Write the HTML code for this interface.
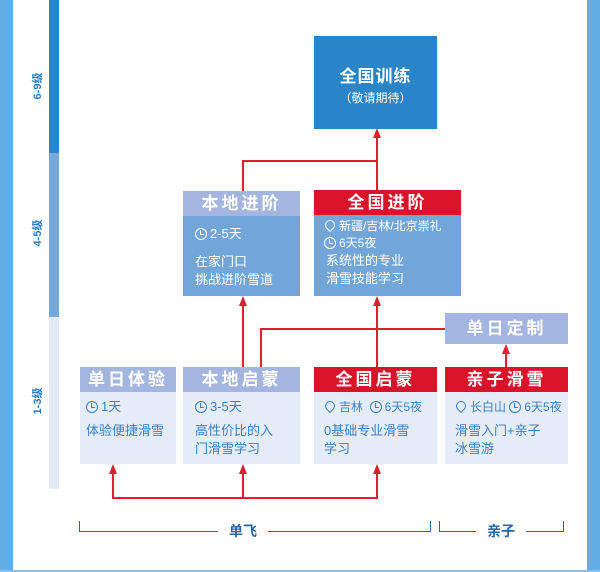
<!DOCTYPE html>
<html><head><meta charset="utf-8"><style>
body{margin:0;width:600px;height:572px;position:relative;background:#fff;overflow:hidden;font-family:"Liberation Sans","Noto Sans CJK SC",sans-serif}
.a{position:absolute}
.h{position:absolute;color:#fff;font-weight:bold;font-size:17px;text-align:center;line-height:25px;letter-spacing:3px}
.b{position:absolute;font-size:13px;line-height:18px;box-sizing:border-box;padding:6px 0 0 12px}
.lb{background:#e4ecf7;color:#3a7fc4}
.db{background:#72a6d9;color:#fff}
.r{position:absolute;background:#e01e30}
.ar{position:absolute;width:0;height:0;border-left:4px solid transparent;border-right:4px solid transparent;border-bottom:10px solid #e01e30}
.lv{position:absolute;left:22px;width:30px;text-align:center;color:#2a7bc4;font-weight:bold;font-size:11px;transform:rotate(-90deg)}
.bl{position:absolute;background:#2565a8}
.ck{display:inline-block;width:10px;height:10px;border:1.3px solid currentColor;border-radius:50%;vertical-align:-2px;margin-right:3px;position:relative}
.ck:after{content:"";position:absolute;left:4px;top:1px;width:3px;height:4px;border-left:1.3px solid currentColor;border-bottom:1.3px solid currentColor}
.pn{display:inline-block;width:8px;height:8px;border:1.3px solid currentColor;border-radius:50% 50% 50% 0;transform:rotate(-45deg);vertical-align:0;margin:0 4px 0 1px}
</style></head><body>
<div class="a" style="left:0;top:0;width:13px;height:572px;background:#64aee8"></div>
<div class="a" style="left:587px;top:0;width:13px;height:572px;background:#64aee8"></div>
<div class="a" style="left:0;top:570px;width:600px;height:2px;background:#8cc0ec"></div>
<div class="a" style="left:49px;top:0;width:10px;height:153px;background:#2a84c8"></div>
<div class="a" style="left:49px;top:153px;width:10px;height:164px;background:#74a9db"></div>
<div class="a" style="left:49px;top:317px;width:10px;height:172px;background:#e2ebf6"></div>
<div class="lv" style="top:78px">6-9级</div>
<div class="lv" style="top:225px">4-5级</div>
<div class="lv" style="top:393px">1-3级</div>

<div class="r" style="left:242px;top:160px;width:136px;height:2px"></div>
<div class="r" style="left:242px;top:160px;width:2px;height:31px"></div>
<div class="r" style="left:376px;top:136px;width:2px;height:55px"></div>
<div class="ar" style="left:373px;top:128px"></div>
<div class="r" style="left:242px;top:304px;width:2px;height:63px"></div>
<div class="ar" style="left:239px;top:296px"></div>
<div class="r" style="left:376px;top:304px;width:2px;height:63px"></div>
<div class="ar" style="left:373px;top:296px"></div>
<div class="r" style="left:260px;top:328px;width:185px;height:2px"></div>
<div class="r" style="left:260px;top:328px;width:2px;height:39px"></div>
<div class="r" style="left:505px;top:352px;width:2px;height:15px"></div>
<div class="ar" style="left:502px;top:344px"></div>
<div class="r" style="left:112px;top:497px;width:266px;height:2px"></div>
<div class="r" style="left:112px;top:472px;width:2px;height:26px"></div>
<div class="ar" style="left:109px;top:464px"></div>
<div class="r" style="left:242px;top:472px;width:2px;height:26px"></div>
<div class="ar" style="left:239px;top:464px"></div>
<div class="r" style="left:376px;top:472px;width:2px;height:26px"></div>
<div class="ar" style="left:373px;top:464px"></div>

<div class="a" style="left:314px;top:36px;width:123px;height:93px;background:#2a84c8;color:#fff;text-align:center">
<div style="margin-top:26px;font-size:17px;font-weight:bold;letter-spacing:1px">全国训练</div>
<div style="font-size:12px;margin-top:2px">（敬请期待）</div></div>

<div class="h" style="left:183px;top:191px;width:117px;background:#a4b6df">本地进阶</div>
<div class="b db" style="left:183px;top:216px;width:117px;height:80px;padding-top:9px"><span class="ck"></span>2-5天<div style="margin-top:10px">在家门口<br>挑战进阶雪道</div></div>
<div class="h" style="left:314px;top:190px;width:147px;background:#d9132a">全国进阶</div>
<div class="b db" style="left:314px;top:215px;width:147px;height:81px;padding:3px 0 0 10px;font-size:12px;line-height:17px"><span class="pn"></span>新疆/吉林/北京崇礼<br><span class="ck"></span>6天5夜<div style="font-size:13px;line-height:18px;padding-left:2px">系统性的专业<br>滑雪技能学习</div></div>
<div class="h" style="left:445px;top:313px;width:123px;height:31px;line-height:31px;background:#a4b6df">单日定制</div>

<div class="h" style="left:80px;top:367px;width:96px;background:#a4b6df">单日体验</div>
<div class="b lb" style="left:80px;top:392px;width:96px;height:72px;padding-left:6px"><span class="ck"></span>1天<div style="margin-top:6px">体验便捷滑雪</div></div>
<div class="h" style="left:183px;top:367px;width:117px;background:#a4b6df">本地启蒙</div>
<div class="b lb" style="left:183px;top:392px;width:117px;height:72px"><span class="ck"></span>3-5天<div style="margin-top:6px">高性价比的入<br>门滑雪学习</div></div>
<div class="h" style="left:314px;top:367px;width:123px;background:#d9132a">全国启蒙</div>
<div class="b lb" style="left:314px;top:392px;width:123px;height:72px;padding-left:10px;font-size:12px"><span class="pn"></span>吉林 &nbsp;<span class="ck"></span>6天5夜<div style="margin-top:6px;font-size:13px">0基础专业滑雪<br>学习</div></div>
<div class="h" style="left:445px;top:367px;width:123px;background:#d9132a">亲子滑雪</div>
<div class="b lb" style="left:445px;top:392px;width:123px;height:72px;padding-left:10px;font-size:12px"><span class="pn"></span>长白山 <span class="ck"></span>6天5夜<div style="margin-top:6px;font-size:13px">滑雪入门+亲子<br>冰雪游</div></div>

<div class="bl" style="left:79px;top:521px;width:1px;height:11px"></div>
<div class="bl" style="left:79px;top:531px;width:139px;height:1px"></div>
<div class="a" style="left:218px;top:521px;width:50px;text-align:center;color:#2565a8;font-weight:bold;font-size:14px">单飞</div>
<div class="bl" style="left:268px;top:531px;width:162px;height:1px"></div>
<div class="bl" style="left:430px;top:521px;width:1px;height:11px"></div>
<div class="bl" style="left:439px;top:521px;width:1px;height:11px"></div>
<div class="bl" style="left:439px;top:531px;width:37px;height:1px"></div>
<div class="a" style="left:476px;top:521px;width:50px;text-align:center;color:#2565a8;font-weight:bold;font-size:14px">亲子</div>
<div class="bl" style="left:526px;top:531px;width:38px;height:1px"></div>
<div class="bl" style="left:563px;top:521px;width:1px;height:11px"></div>
</body></html>
